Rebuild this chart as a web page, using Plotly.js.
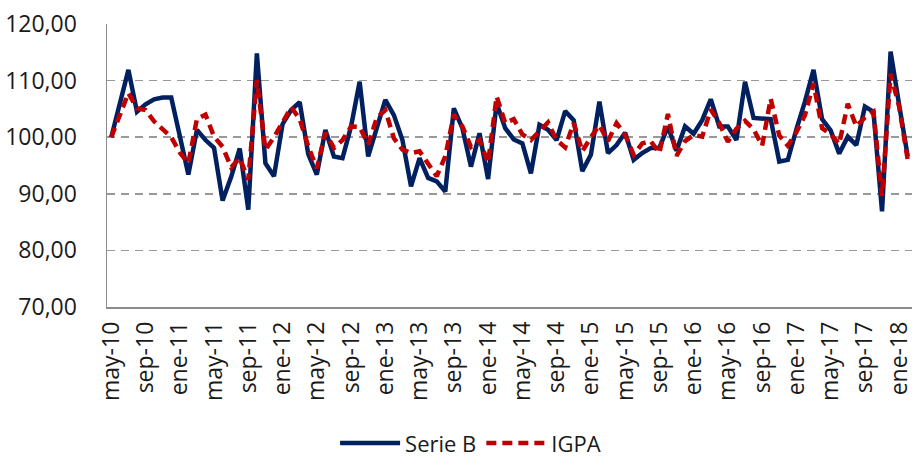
<!DOCTYPE html>
<html>
<head>
<meta charset="utf-8">
<script src="https://cdn.plot.ly/plotly-3.0.1.min.js"></script>
<style>html,body{margin:0;padding:0;background:#fff;}#chart{width:912px;height:457px;}</style>
</head>
<body>
<div id="chart"></div>
<script>
const categories = [
 'may-10','jun-10','jul-10','ago-10','sep-10','oct-10','nov-10','dic-10',
 'ene-11','feb-11','mar-11','abr-11','may-11','jun-11','jul-11','ago-11','sep-11','oct-11','nov-11','dic-11',
 'ene-12','feb-12','mar-12','abr-12','may-12','jun-12','jul-12','ago-12','sep-12','oct-12','nov-12','dic-12',
 'ene-13','feb-13','mar-13','abr-13','may-13','jun-13','jul-13','ago-13','sep-13','oct-13','nov-13','dic-13',
 'ene-14','feb-14','mar-14','abr-14','may-14','jun-14','jul-14','ago-14','sep-14','oct-14','nov-14','dic-14',
 'ene-15','feb-15','mar-15','abr-15','may-15','jun-15','jul-15','ago-15','sep-15','oct-15','nov-15','dic-15',
 'ene-16','feb-16','mar-16','abr-16','may-16','jun-16','jul-16','ago-16','sep-16','oct-16','nov-16','dic-16',
 'ene-17','feb-17','mar-17','abr-17','may-17','jun-17','jul-17','ago-17','sep-17','oct-17','nov-17','dic-17',
 'ene-18','feb-18'
];
const tickLabels = ['may-10','sep-10','ene-11','may-11','sep-11','ene-12','may-12','sep-12','ene-13',
 'may-13','sep-13','ene-14','may-14','sep-14','ene-15','may-15','sep-15','ene-16','may-16','sep-16',
 'ene-17','may-17','sep-17','ene-18'];
const serieB = [
 100.0,106.0,111.9,104.5,105.8,106.7,107.0,107.0,100.3,93.4,
 101.3,99.5,98.1,88.8,93.0,98.0,87.2,114.8,95.4,93.1,
 102.3,104.8,106.2,97.0,93.4,101.3,96.6,96.3,101.9,109.8,
 96.6,101.9,106.6,103.9,99.5,91.3,96.3,92.8,92.2,90.4,
 105.1,101.6,94.8,100.7,92.6,106.0,101.6,99.6,98.9,93.6,
 102.2,101.3,99.5,104.6,103.0,94.0,96.9,106.3,97.2,98.6,
 100.8,96.0,97.2,98.1,98.1,101.9,97.6,101.9,100.6,103.0,
 106.7,101.9,101.9,99.5,109.8,103.4,103.2,103.2,95.7,96.0,
 101.4,106.3,111.9,103.2,101.2,97.1,100.1,98.6,105.4,104.5,
 86.9,115.1,105.7,96.6
];
const igpa = [
 100.0,104.0,107.8,105.1,104.8,102.8,101.3,100.0,97.3,95.4,
 103.2,104.0,100.1,98.3,94.7,96.3,92.5,110.1,97.8,100.0,
 102.6,105.3,103.2,98.4,94.5,100.8,98.1,99.5,101.9,101.8,
 98.7,103.4,104.8,99.8,97.8,97.2,97.5,95.4,93.1,96.6,
 104.0,101.9,98.3,99.5,95.5,107.2,102.5,103.2,100.5,99.5,
 101.0,102.6,99.5,98.2,102.5,97.5,100.0,102.1,99.3,102.5,
 100.4,96.9,98.9,99.3,97.2,104.1,96.7,99.3,100.4,100.1,
 104.9,102.5,99.2,101.5,102.9,101.4,98.5,106.8,100.3,98.5,
 100.9,103.9,109.5,101.6,100.5,98.8,105.9,101.9,103.5,104.5,
 89.6,111.2,105.4,96.0
];
const yTicks = [70,80,90,100,110,120];

const FONT = '"Open Sans", "Liberation Sans", sans-serif';

const traces = [
 {x: categories, y: serieB, type:'scatter', mode:'lines', name:'Serie B',
  line:{color:'#002060', width:4.5}},
 {x: categories, y: igpa, type:'scatter', mode:'lines', name:'IGPA',
  line:{color:'#C00000', width:4.5, dash:'10px,6px'}}
];

const layout = {
 width:912, height:457,
 margin:{l:107, r:0, t:24, b:150, pad:0},
 paper_bgcolor:'#fff', plot_bgcolor:'#fff',
 separators:',.',
 showlegend:true,
 font:{family:FONT, size:23, color:'#1a1a1a'},
 xaxis:{
  type:'category',
  categoryorder:'array', categoryarray: categories,
  range:[-0.5, categories.length-0.5],
  tickmode:'array', tickvals: tickLabels, ticktext: tickLabels,
  tickangle:-90,
  showgrid:false, zeroline:false,
  showline:true, linecolor:'#8c8c8c', linewidth:1.5,
  ticks:'', ticklabelstandoff:4,
  tickfont:{family:FONT, size:23, color:'#1a1a1a'}
 },
 yaxis:{
  range:[70,120],
  tickmode:'array', tickvals:yTicks,
  tickformat:'.2f',
  showgrid:true, gridcolor:'#999999', gridwidth:1.5, griddash:'8px,6px',
  zeroline:false,
  showline:true, linecolor:'#8c8c8c', linewidth:1.5,
  ticks:'', ticklabelstandoff:24,
  tickfont:{family:FONT, size:23, color:'#1a1a1a'}
 },
 legend:{
  orientation:'h',
  xref:'container', yref:'container',
  x:0.516, xanchor:'center',
  y:0.03, yanchor:'middle',
  font:{family:FONT, size:22, color:'#1a1a1a'},
  itemwidth:60
 }
};

Plotly.newPlot('chart', traces, layout, {staticPlot:true, displayModeBar:false});
</script>
</body>
</html>
